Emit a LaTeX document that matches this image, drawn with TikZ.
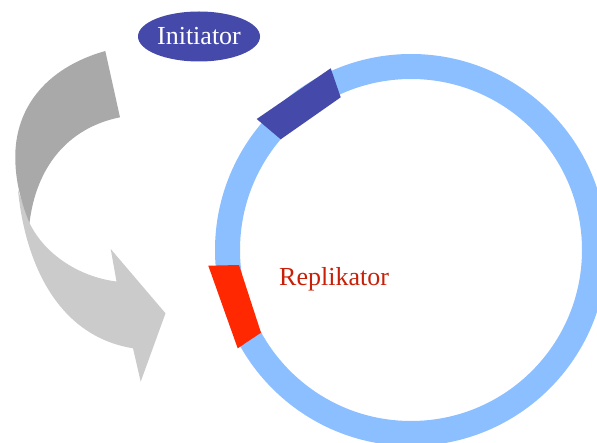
\documentclass[tikz,border=0pt]{standalone}
\usepackage{fontspec}
\setmainfont{Liberation Serif}
\usetikzlibrary{shapes.geometric}
\definecolor{ringblue}{RGB}{139,191,255}
\definecolor{initblue}{RGB}{69,73,170}
\definecolor{repred}{RGB}{255,40,0}
\definecolor{reptext}{RGB}{200,32,8}
\definecolor{grayA}{RGB}{169,169,169}
\definecolor{grayB}{RGB}{203,203,203}
\tikzset{
  lbl/.style={font=\fontsize{26}{30}\selectfont, inner sep=0pt},
  ringstyle/.style={draw=ringblue, line width=25pt},
}
\begin{document}
\begin{tikzpicture}[x=1pt, y=-1pt]
\useasboundingbox (0,0) rectangle (597,443);
% ring
\coordinate (c) at (411,250);
\draw[ringstyle] (c) circle[radius=183.5pt];
% blue site
\fill[initblue] (256.7,119) -- (330.7,68.3) -- (340.7,97.3) -- (280.7,139.3) -- cycle;
% red site
\fill[repred] (208.3,265.7) -- (239,265) -- (261,332.7) -- (237.7,348.3) -- cycle;
% curved arrow, light lower part
\fill[grayB] (18,190) .. controls (25,262) and (57,336) .. (133,348.3)
  -- (140.7,381.7) -- (165.5,313.3) -- (110.7,249) -- (116.5,281.5)
  .. controls (80,277) and (45,255) .. (29.5,223) -- cycle;
% curved arrow, dark upper part
\fill[grayA] (105.3,51) -- (120,117.3)
  .. controls (67,128) and (36,168) .. (29.5,223)
  .. controls (22,205) and (16.5,185) .. (15.5,165)
  .. controls (12,110) and (45,68) .. (105.3,51) -- cycle;
% labels
\node[lbl, ellipse, fill=initblue, text=white, minimum width=122pt, minimum height=50pt] (init) at (199,36.5) {Initiator};
\node[lbl, text=reptext, anchor=base west] (rep) at (279,286) {Replikator};
\end{tikzpicture}
\end{document}
